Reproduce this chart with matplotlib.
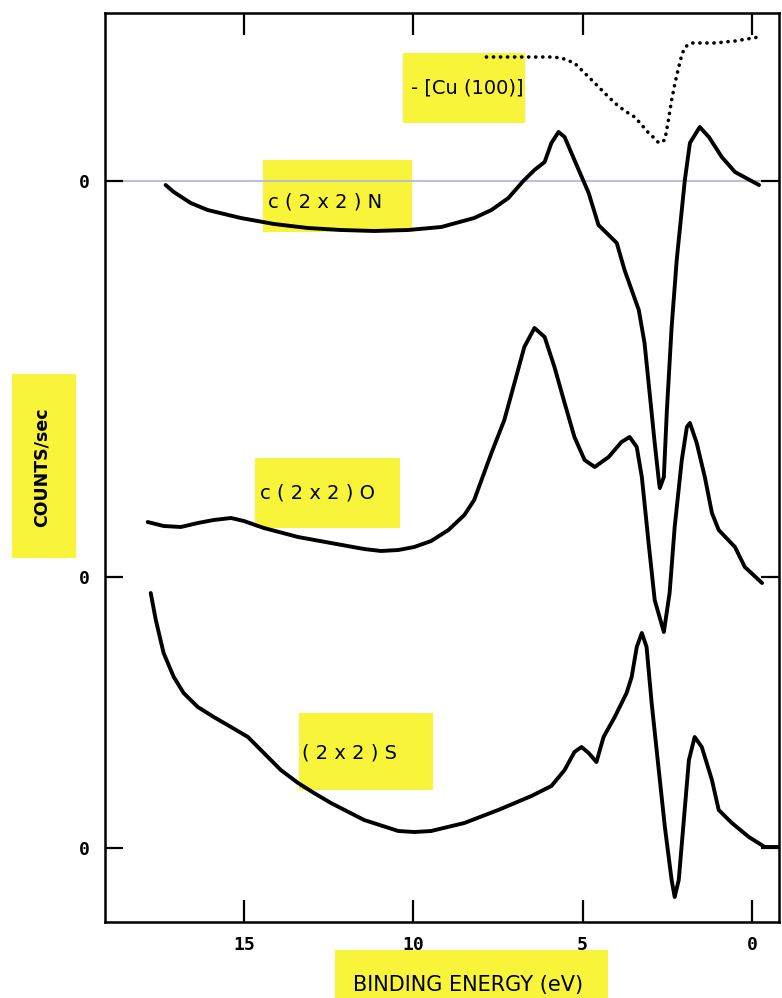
import matplotlib
matplotlib.use("Agg")
import matplotlib.pyplot as plt
from matplotlib.patches import Rectangle

# binding energy (eV) and counts relative to each curve's own zero
n_energy = [17.31, 17.07, 16.57, 16.07, 15.09, 14.11, 13.11, 12.13, 11.15, 10.15,
            9.17, 8.20, 7.69, 7.19, 6.75, 6.42, 6.12, 5.92, 5.71, 5.53, 5.24,
            4.82, 4.53, 4.23, 3.99, 3.76, 3.34, 3.17, 3.02, 2.87, 2.75, 2.72,
            2.60, 2.51, 2.37, 2.22, 2.07, 1.98, 1.83, 1.54, 1.27, 0.89, 0.50, -0.21]
n_counts = [-4, -11, -22, -29, -37, -43, -47, -49, -50, -49,
            -46, -37, -29, -17, 0, 11, 19, 38, 49, 44, 21,
            -12, -44, -54, -62, -89, -129, -162, -212, -262, -299, -307,
            -296, -229, -146, -79, -29, 1, 38, 54, 44, 24, 9, -4]

cu_energy = [7.84, 7.1, 6.42, 5.9, 5.62, 5.24, 4.94, 4.64, 4.35, 4.05, 3.75, 3.46,
             3.25, 3.05, 2.85, 2.75, 2.57, 2.47, 2.37, 2.27, 2.16, 2.07, 1.98,
             1.78, 1.4, 1.09, 0.5, -0.21]
cu_counts = [124, 124, 124, 124, 123, 118, 108, 98, 88, 78, 70, 64,
             56, 48, 42, 38, 41, 60, 81, 98, 114, 126, 134,
             138, 138, 138, 140, 144]

o_energy = [17.84, 17.37, 16.86, 16.36, 15.89, 15.38, 15.00, 14.41, 13.40, 12.43,
            11.45, 10.95, 10.44, 9.97, 9.47, 8.96, 8.49, 8.20, 7.69, 7.31, 7.01,
            6.72, 6.42, 6.12, 5.83, 5.53, 5.24, 4.94, 4.64, 4.23, 3.85, 3.61,
            3.40, 3.25, 3.05, 2.87, 2.60, 2.43, 2.28, 2.07, 1.92, 1.83, 1.63,
            1.39, 1.18, 0.98, 0.50, 0.21, -0.30]
o_counts = [55, 51, 50, 54, 57, 59, 56, 49, 40, 34,
            28, 26, 27, 30, 36, 47, 62, 77, 124, 157, 194,
            230, 249, 240, 210, 174, 140, 117, 110, 120, 135, 140,
            130, 100, 34, -23, -55, -16, 50, 117, 150, 154, 134,
            100, 64, 47, 30, 10, -6]

s_energy = [17.75, 17.60, 17.37, 17.07, 16.78, 16.36, 15.89, 15.38, 14.88, 14.41,
            13.91, 13.40, 12.93, 12.43, 11.45, 10.44, 9.97, 9.47, 8.49, 7.49,
            6.51, 5.92, 5.53, 5.24, 5.03, 4.82, 4.59, 4.38, 4.05, 3.70, 3.55,
            3.40, 3.25, 3.11, 2.96, 2.75, 2.57, 2.37, 2.28, 2.16, 2.01, 1.86,
            1.69, 1.48, 1.18, 0.98, 0.59, 0.09, -0.38, -0.80]
s_counts = [255, 228, 195, 171, 155, 141, 131, 121, 111, 95,
            78, 65, 55, 45, 28, 17, 16, 17, 25, 38,
            52, 62, 78, 96, 101, 95, 86, 111, 131, 155, 171,
            201, 215, 201, 145, 78, 21, -32, -49, -32, 28, 88,
            111, 101, 68, 38, 25, 11, 1, 1]

# vertical offsets of the three spectra
offsets = {"N": 741, "O": 345, "S": 74}
x_ticks = [15, 10, 5, 0]

YELLOW = "#f7f43a"
W, H = 782, 998

fig = plt.figure(figsize=(W / 100, H / 100), dpi=100)
ax = fig.add_axes([105 / W, 76 / H, 674 / W, 909 / H])


def highlight(x0, y0, x1, y1, where=fig):
    # yellow marker box given in pixel coords (top-left origin)
    r = Rectangle((x0 / W, 1 - y1 / H), (x1 - x0) / W, (y1 - y0) / H,
                  transform=fig.transFigure, facecolor=YELLOW, edgecolor="none", zorder=0)
    where.add_artist(r)


ax.axhline(offsets["N"], xmin=0.02, color="#bcbcd4", lw=1.4, zorder=1)

line_kw = dict(color="black", lw=2.8, solid_joinstyle="round", solid_capstyle="round", zorder=3)
ax.plot(n_energy, [c + offsets["N"] for c in n_counts], **line_kw)
ax.plot(o_energy, [c + offsets["O"] for c in o_counts], **line_kw)
ax.plot(s_energy, [c + offsets["S"] for c in s_counts], **line_kw)
ax.plot(cu_energy, [c + offsets["N"] for c in cu_counts], color="black", lw=2.6,
        linestyle=(0, (0.05, 1.9)), dash_capstyle="round", zorder=3)

ax.set_xlim(19.1, -0.8)
ax.set_ylim(0, 909)
ax.set_xticks(x_ticks)
ax.set_xticklabels([str(t) for t in x_ticks], fontsize=13, family="DejaVu Sans Mono", weight="bold")
ax.set_yticks(list(offsets.values()))
ax.set_yticklabels(["0"] * 3, fontsize=13, family="DejaVu Sans Mono", weight="bold")
ax.tick_params(axis="x", direction="in", length=16, width=1.6, top=True, pad=10)
ax.tick_params(axis="y", direction="in", length=13, width=1.6, right=True, pad=11)
for sp in ax.spines.values():
    sp.set_linewidth(1.8)

# highlighted labels
for box in [(263, 160, 412, 232), (403, 53, 525, 123), (255, 458, 400, 528), (299, 713, 433, 790)]:
    highlight(*box, where=ax)
highlight(12, 374, 76, 558)
highlight(335, 950, 608, 998)

lab = dict(fontsize=14, ha="center", va="center", zorder=2, transform=fig.transFigure)
ax.text(325 / W, 1 - 202 / H, "c ( 2 x 2 ) N", **lab)
ax.text(318 / W, 1 - 493 / H, "c ( 2 x 2 ) O", **lab)
ax.text(350 / W, 1 - 753 / H, "( 2 x 2 ) S", **lab)
ax.text(467 / W, 1 - 88 / H, "- [Cu (100)]", **lab)

fig.text(42 / W, 1 - 467 / H, "COUNTS/sec", rotation=90, fontsize=12.5, weight="bold",
         ha="center", va="center", zorder=2)
fig.text(468 / W, 1 - 985 / H, "BINDING ENERGY (eV)", fontsize=15,
         ha="center", va="center", zorder=2)

fig.savefig("out.png", dpi=100)
